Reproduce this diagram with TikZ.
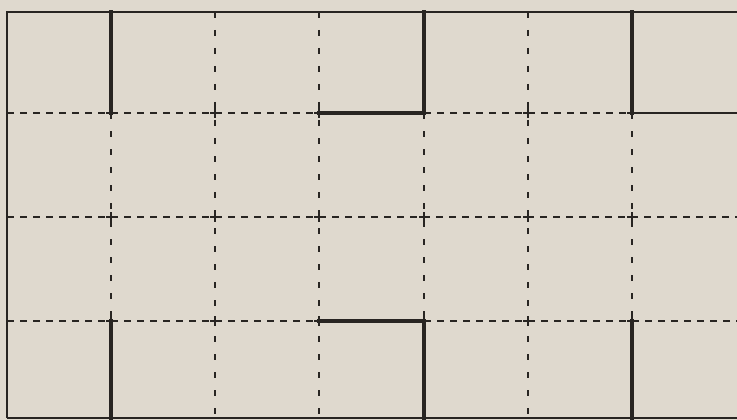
\documentclass[tikz,border=0pt]{standalone}
\definecolor{paper}{RGB}{223,217,206}
\definecolor{ink}{RGB}{40,37,34}
\tikzset{
  hdash/.style={draw=ink,line width=1.1pt,dash pattern=on 7pt off 6pt},
  vdash/.style={draw=ink,line width=1.1pt,dash pattern=on 6pt off 12pt},
  border/.style={draw=ink,line width=1.4pt},
  heavy/.style={draw=ink,line width=3.2pt,line cap=rect},
  tick/.style={draw=ink,line width=1.1pt}
}
\begin{document}
\begin{tikzpicture}[x=1pt,y=-1pt]
\fill[paper] (0,0) rectangle (737,420);
\useasboundingbox (0,0) rectangle (737,420);
% column x: 7,111,215,319,424,528,632 ; rows y: 12,113,217,321,418
% dashed horizontals
\draw[hdash] (7,113) -- (319,113);
\draw[hdash] (424,113) -- (632,113);
\draw[hdash] (7,217) -- (737,217);
\draw[hdash] (7,321) -- (319,321);
\draw[hdash] (424,321) -- (737,321);
% dashed verticals
\draw[vdash] (111,113) -- (111,321);
\draw[vdash] (215,12) -- (215,418);
\draw[vdash] (319,12) -- (319,418);
\draw[vdash] (424,113) -- (424,321);
\draw[vdash] (528,12) -- (528,418);
\draw[vdash] (632,113) -- (632,321);
% crosses at intersections
\foreach \cx in {111,215,319,424,528,632}{
  \foreach \cy in {113,217,321}{
    \draw[tick] (\cx-5,\cy) -- (\cx+5,\cy) (\cx,\cy-5) -- (\cx,\cy+5);
  }
}
% border
\draw[border] (7,418) -- (7,12) -- (737,12);
\draw[border] (7,418) -- (737,418);
\draw[border] (632,113) -- (737,113);
% heavy segments
\draw[heavy] (111,12) -- (111,113);
\draw[heavy] (319,113) -- (424,113) -- (424,12);
\draw[heavy] (632,12) -- (632,113);
\draw[heavy] (111,321) -- (111,418);
\draw[heavy] (319,321) -- (424,321) -- (424,418);
\draw[heavy] (632,321) -- (632,418);
\end{tikzpicture}
\end{document}
